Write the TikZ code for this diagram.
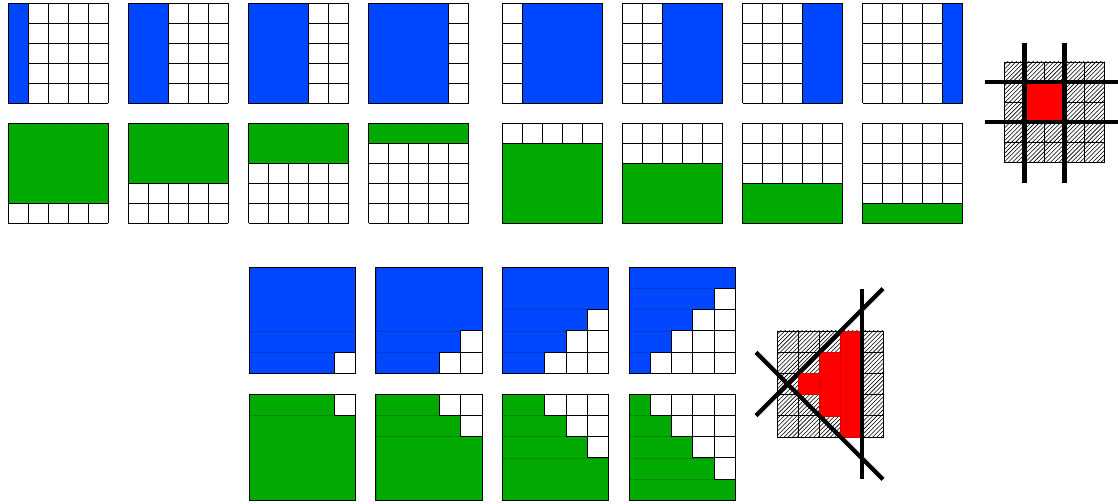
\documentclass[tikz,border=0pt]{standalone}
\usepackage{tikz}
\usetikzlibrary{patterns}

\definecolor{fillblue}{RGB}{0,71,255}
\definecolor{fillgreen}{RGB}{0,170,0}
\definecolor{cellred}{RGB}{255,0,0}

% 5x5 grid of lines, cell size #1
\newcommand{\cellgrid}[1]{%
  \foreach \k in {0,...,5}{
    \draw[gridline] ({#1*\k},0) -- ({#1*\k},{5*#1});
    \draw[gridline] (0,{#1*\k}) -- ({5*#1},{#1*\k});
  }}

\begin{document}
\begin{tikzpicture}[
    x=0.025cm, y=-0.025cm,
    gridline/.style={draw=black, line width=0.6pt},
    bluebar/.style={fill=fillblue, draw=black, line width=0.6pt},
    greenbar/.style={fill=fillgreen, draw=black, line width=0.6pt},
    bluestrip/.style={fill=fillblue, draw=fillblue!80!black, line width=0.25pt},
    greenstrip/.style={fill=fillgreen, draw=fillgreen!80!black, line width=0.25pt},
    whitecell/.style={fill=white, draw=black, line width=0.6pt},
    hatchcell/.style={pattern=north east lines, draw=black, line width=0.6pt},
    redstrip/.style={fill=cellred, draw=cellred!85!black, line width=0.25pt},
    cutline/.style={draw=black, line width=3pt}
]
\useasboundingbox (0,0) rectangle (1118,504);

% top row: blue columns
\foreach \i in {0,...,3}{
  \begin{scope}[shift={({8+120.3*\i},3)}]
    \cellgrid{20}
    \draw[bluebar] (0,0) rectangle ({20*(\i+1)},100);
  \end{scope}
  \begin{scope}[shift={({502+120.3*\i},3)}]
    \cellgrid{20}
    \draw[bluebar] ({20*(\i+1)},0) rectangle (100,100);
  \end{scope}
}

% second row: green rows
\foreach \i in {0,...,3}{
  \begin{scope}[shift={({8+120.3*\i},123)}]
    \cellgrid{20}
    \draw[greenbar] (0,0) rectangle (100,{20*(4-\i)});
  \end{scope}
  \begin{scope}[shift={({502+120.3*\i},123)}]
    \cellgrid{20}
    \draw[greenbar] (0,{20*(\i+1)}) rectangle (100,100);
  \end{scope}
}

% top right: hatched grid with red block
\begin{scope}[shift={(1004.5,62)}]
  \foreach \r in {1,...,5}
    \foreach \c in {1,...,5}
      \draw[hatchcell] ({20*(\c-1)},{20*(\r-1)}) rectangle ({20*\c},{20*\r});
  \fill[cellred] (20,20) rectangle (60,60);
  \draw[cutline] (20,-19) -- (20,121);
  \draw[cutline] (60,-19) -- (60,121);
  \draw[cutline] (-20,20) -- (120,20);
  \draw[cutline] (-20,60) -- (120,60);
\end{scope}

% bottom: blue staircases
\foreach \j in {1,...,4}{
  \begin{scope}[shift={({249+126.7*(\j-1)},267)}]
    \pgfmathtruncatemacro\rf{min(3,5-\j)}
    \pgfmathtruncatemacro\rs{\rf+1}
    \draw[bluestrip] (0,0) rectangle (106.25,{21.25*\rf});
    \foreach \r in {\rs,...,5}
      \draw[bluestrip] (0,{21.25*(\r-1)}) rectangle ({21.25*min(5,10-\j-\r)},{21.25*\r});
    \foreach \r in {1,...,5}
      \foreach \c in {1,...,5}{
        \ifnum\numexpr\r+\c\relax>\numexpr10-\j\relax
          \draw[whitecell] ({21.25*(\c-1)},{21.25*(\r-1)}) rectangle ({21.25*\c},{21.25*\r});
        \fi
      }
    \draw[gridline] (0,0) rectangle (106.25,106.25);
  \end{scope}
}

% bottom: green staircases
\foreach \j in {1,...,4}{
  \begin{scope}[shift={({249+126.7*(\j-1)},394)}]
    \draw[greenstrip] (0,{21.25*\j}) rectangle (106.25,106.25);
    \foreach \r in {1,...,\j}
      \draw[greenstrip] (0,{21.25*(\r-1)}) rectangle ({21.25*(4-\j+\r)},{21.25*\r});
    \foreach \r in {1,...,5}
      \foreach \c in {1,...,5}{
        \ifnum\numexpr\c-\r\relax>\numexpr4-\j\relax
          \draw[whitecell] ({21.25*(\c-1)},{21.25*(\r-1)}) rectangle ({21.25*\c},{21.25*\r});
        \fi
      }
    \draw[gridline] (0,0) rectangle (106.25,106.25);
  \end{scope}
}

% bottom right: hatched grid with red wedge
\begin{scope}[shift={(777,331)}]
  \foreach \r in {1,...,5}
    \foreach \c in {1,...,5}
      \draw[hatchcell] ({21.2*(\c-1)},{21.2*(\r-1)}) rectangle ({21.2*\c},{21.2*\r});
  \foreach \c in {2,3,4}
    \draw[redstrip] ({21.2*(\c-1)},{21.2*(4-\c)}) rectangle ({21.2*\c},{21.2*(\c+1)});
  \draw[cutline] (84.8,-42) -- (84.8,148);
  \draw[cutline] (-21,84.6) -- (106,-42.4);
  \draw[cutline] (-21,21.4) -- (106,148.4);
\end{scope}
\end{tikzpicture}
\end{document}
